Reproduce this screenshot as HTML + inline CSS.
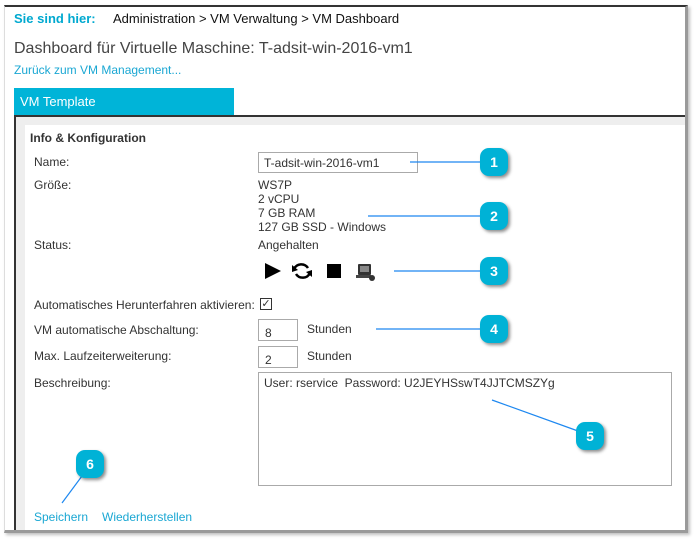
<!DOCTYPE html>
<html><head><meta charset="utf-8"><style>
*{margin:0;padding:0;box-sizing:border-box}
body{width:696px;height:541px;background:#fff;position:relative;overflow:hidden;font-family:"Liberation Sans",Arial,sans-serif;font-size:12px;color:#333}
.a{position:absolute;white-space:nowrap}
.frame{position:absolute;left:4px;top:5px;width:684px;height:528px;border-top:2px solid #333;border-left:1px solid #ddd;border-right:3px solid #9a9a9a;border-bottom:3px solid #9a9a9a;box-shadow:2px 2px 3px rgba(0,0,0,.25)}
.badge{position:absolute;width:28px;height:28px;border-radius:9px;background:#00b2d6;color:#fff;font-weight:bold;font-size:14px;text-align:center;line-height:28px;box-shadow:2px 2px 3px rgba(0,0,0,.45)}
.inp{position:absolute;border:1px solid #aaa;background:#fff}
</style></head><body>
<div class="a" style="left:14px;top:11px;font-size:13px;color:#00a9d0;font-weight:bold">Sie sind hier:</div>
<div class="a" style="left:113px;top:11px;font-size:13px;color:#111">Administration &gt; VM Verwaltung &gt; VM Dashboard</div>
<div class="a" style="left:14px;top:40px;font-size:16px;color:#444">Dashboard für Virtuelle Maschine: T-adsit-win-2016-vm1</div>
<div class="a" style="left:14px;top:63px;font-size:12px;color:#1aa7d3">Zurück zum VM Management...</div>
<div class="a" style="left:14px;top:88px;width:220px;height:27px;background:#00b4d8;color:#fff;font-size:13px;padding:6px 0 0 6px">VM Template</div>
<div class="a" style="left:14px;top:115px;width:673px;height:416px;border-top:2px solid #333;border-left:2px solid #333;background:#eee"></div>
<div class="a" style="left:25px;top:125px;width:662px;height:406px;background:#fff"></div>
<div class="frame"></div>
<div class="a" style="left:30px;top:131px;font-weight:bold;color:#333">Info &amp; Konfiguration</div>
<div class="a" style="left:34px;top:155px">Name:</div>
<div class="a" style="left:34px;top:178px">Größe:</div>
<div class="a" style="left:34px;top:238px">Status:</div>
<div class="a" style="left:34px;top:298px">Automatisches Herunterfahren aktivieren:</div>
<div class="a" style="left:34px;top:323px">VM automatische Abschaltung:</div>
<div class="a" style="left:34px;top:349px">Max. Laufzeiterweiterung:</div>
<div class="a" style="left:34px;top:376px">Beschreibung:</div>
<div class="inp" style="left:258px;top:152px;width:160px;height:21px"></div>
<div class="a" style="left:264px;top:156px">T-adsit-win-2016-vm1</div>
<div class="a" style="left:258px;top:178px;line-height:14px">WS7P<br>2 vCPU<br>7 GB RAM<br>127 GB SSD - Windows</div>
<div class="a" style="left:258px;top:238px">Angehalten</div>
<svg class="a" style="left:260px;top:260px" width="120" height="24">
<polygon points="5,3 21,11 5,19" fill="#000"/>
<path d="M48,8 A8,8 0 0 0 34,9" stroke="#000" stroke-width="2.5" fill="none"/><polygon points="32,5 38,10 32,12" fill="#000"/>
<path d="M36,14 A8,8 0 0 0 50,13" stroke="#000" stroke-width="2.5" fill="none"/><polygon points="52,17 46,12 52,10" fill="#000"/>
<rect x="67" y="4" width="14" height="14" fill="#000"/>
<rect x="98" y="4" width="13" height="11" rx="1" fill="#333"/><rect x="100" y="6" width="9" height="6" fill="#888"/><rect x="96" y="15" width="15" height="3" fill="#444"/><circle cx="112" cy="18" r="3" fill="#333"/>
</svg>
<div class="a" style="left:260px;top:298px;width:12px;height:12px;border:1px solid #333;font-size:11px;line-height:10px;text-align:center">✓</div>
<div class="inp" style="left:258px;top:319px;width:40px;height:22px"></div>
<div class="a" style="left:265px;top:326px">8</div>
<div class="a" style="left:307px;top:322px">Stunden</div>
<div class="inp" style="left:258px;top:346px;width:40px;height:22px"></div>
<div class="a" style="left:265px;top:353px">2</div>
<div class="a" style="left:307px;top:349px">Stunden</div>
<div class="inp" style="left:258px;top:372px;width:414px;height:114px"></div>
<div class="a" style="left:264px;top:376px">User: rservice&nbsp; Password: U2JEYHSswT4JJTCMSZYg</div>
<div class="a" style="left:34px;top:510px;color:#1aa7d3">Speichern</div>
<div class="a" style="left:102px;top:510px;color:#1aa7d3">Wiederherstellen</div>
<svg class="a" style="left:0;top:0" width="696" height="541">
<g stroke="#1e88f0" stroke-width="1.2">
<line x1="410" y1="162" x2="481" y2="162"/>
<line x1="368" y1="216" x2="481" y2="216"/>
<line x1="394" y1="271" x2="481" y2="271"/>
<line x1="376" y1="329" x2="481" y2="329"/>
<line x1="492" y1="400" x2="578" y2="431"/>
<line x1="62" y1="503" x2="82" y2="476"/>
</g></svg>
<div class="badge" style="left:480px;top:148px">1</div>
<div class="badge" style="left:480px;top:202px">2</div>
<div class="badge" style="left:480px;top:257px">3</div>
<div class="badge" style="left:480px;top:315px">4</div>
<div class="badge" style="left:576px;top:422px">5</div>
<div class="badge" style="left:76px;top:450px">6</div>
</body></html>
